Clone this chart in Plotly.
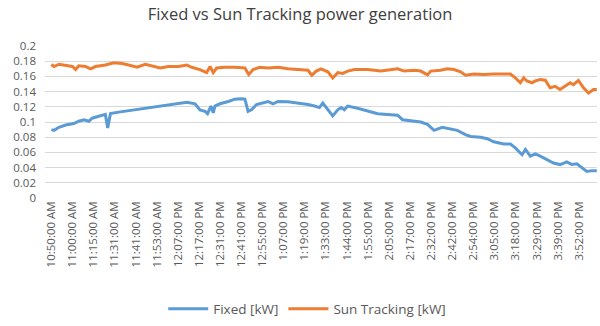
import plotly.graph_objects as go

# Category tick labels (one label every fixed number of samples)
tick_labels = ["10:50:00 AM", "11:00:00 AM", "11:15:00 AM", "11:31:00 AM", "11:41:00 AM",
               "11:53:00 AM", "12:07:00 PM", "12:17:00 PM", "12:31:00 PM", "12:41:00 PM",
               "12:55:00 PM", "1:07:00 PM", "1:19:00 PM", "1:33:00 PM", "1:44:00 PM",
               "1:55:00 PM", "2:05:00 PM", "2:17:00 PM", "2:32:00 PM", "2:42:00 PM",
               "2:54:00 PM", "3:05:00 PM", "3:18:00 PM", "3:29:00 PM", "3:39:00 PM",
               "3:52:00 PM"]
tick_pos = list(range(len(tick_labels)))

y_tick_vals = [0, 0.02, 0.04, 0.06, 0.08, 0.10, 0.12, 0.14, 0.16, 0.18, 0.20]
y_tick_text = ["0", "0.02", "0.04", "0.06", "0.08", "0.1", "0.12", "0.14", "0.16", "0.18", "0.2"]

# Fixed [kW] series (position in label units, value)
pos_fixed = [0, 0.13, 0.36, 0.68, 1.07, 1.30, 1.54, 1.78, 1.93, 2.33, 2.56, 2.67, 2.80, 3.19,
             3.66, 4.14, 4.61, 5.08, 5.55, 6.02, 6.42, 6.81, 7.04, 7.28, 7.40, 7.56, 7.67,
             7.75, 7.99, 8.38, 8.69, 9.01, 9.17, 9.32, 9.48, 9.72, 9.95, 10.27, 10.5, 10.74,
             11.21, 11.68, 12.16, 12.47, 12.7, 12.86, 13.02, 13.33, 13.57, 13.73, 13.88,
             14.04, 14.51, 14.99, 15.46, 15.93, 16.4, 16.64, 17.11, 17.5, 17.82, 18.13,
             18.52, 18.92, 19.23, 19.62, 19.86, 20.33, 20.65, 20.96, 21.43, 21.75, 21.98,
             22.3, 22.46, 22.69, 22.93, 23.16, 23.48, 23.79, 24.1, 24.42, 24.66, 24.9,
             25.13, 25.37, 25.61, 25.84]
val_fixed = [0.090, 0.089, 0.093, 0.096, 0.098, 0.101, 0.103, 0.101, 0.105, 0.108, 0.110,
             0.092, 0.111, 0.113, 0.115, 0.117, 0.119, 0.121, 0.123, 0.125, 0.126, 0.124,
             0.116, 0.114, 0.111, 0.121, 0.112, 0.121, 0.124, 0.127, 0.130, 0.1305, 0.130,
             0.114, 0.116, 0.123, 0.125, 0.127, 0.124, 0.127, 0.1265, 0.125, 0.123, 0.121,
             0.119, 0.125, 0.119, 0.108, 0.116, 0.119, 0.116, 0.121, 0.118, 0.114, 0.111,
             0.110, 0.109, 0.103, 0.101, 0.100, 0.097, 0.089, 0.093, 0.091, 0.089, 0.0835,
             0.081, 0.080, 0.078, 0.074, 0.071, 0.071, 0.066, 0.057, 0.064, 0.055, 0.058,
             0.055, 0.0507, 0.046, 0.044, 0.0476, 0.044, 0.045, 0.040, 0.035, 0.036, 0.036]

# Sun Tracking [kW] series
pos_track = [0, 0.13, 0.36, 0.68, 1.0, 1.15, 1.30, 1.62, 1.86, 2.09, 2.56, 2.96, 3.35, 3.66,
             4.06, 4.45, 4.92, 5.16, 5.55, 6.02, 6.42, 6.65, 7.04, 7.36, 7.52, 7.67, 7.83,
             8.22, 8.69, 9.17, 9.35, 9.56, 9.87, 10.27, 10.74, 11.21, 11.68, 12.16, 12.34,
             12.55, 12.78, 13.1, 13.33, 13.57, 13.8, 14.04, 14.36, 14.99, 15.61, 16.08, 16.4,
             16.72, 17.19, 17.5, 17.82, 17.97, 18.44, 18.76, 19.07, 19.39, 19.62, 20.01,
             20.48, 20.96, 21.43, 21.75, 21.98, 22.22, 22.38, 22.53, 22.77, 22.93, 23.16,
             23.4, 23.63, 23.87, 24.1, 24.34, 24.58, 24.73, 24.97, 25.21, 25.45, 25.68, 25.84]
val_track = [0.1757, 0.173, 0.176, 0.174, 0.173, 0.169, 0.174, 0.173, 0.170, 0.173, 0.175,
             0.178, 0.177, 0.175, 0.172, 0.176, 0.173, 0.171, 0.173, 0.173, 0.175, 0.172,
             0.169, 0.165, 0.173, 0.165, 0.171, 0.172, 0.172, 0.171, 0.1625, 0.169, 0.172,
             0.171, 0.172, 0.170, 0.169, 0.168, 0.1616, 0.167, 0.170, 0.166, 0.158, 0.165,
             0.164, 0.167, 0.169, 0.169, 0.167, 0.169, 0.170, 0.167, 0.168, 0.167, 0.162,
             0.167, 0.168, 0.170, 0.169, 0.166, 0.1616, 0.163, 0.1625, 0.163, 0.1625, 0.163,
             0.158, 0.1516, 0.158, 0.154, 0.1516, 0.154, 0.156, 0.155, 0.145, 0.147, 0.1428,
             0.147, 0.1516, 0.149, 0.1546, 0.145, 0.138, 0.1428, 0.1428]

FONT = "Open Sans"
fig = go.Figure()
fig.add_trace(go.Scatter(x=pos_fixed, y=val_fixed, mode="lines", name="Fixed [kW]",
                         line=dict(color="#5B9BD5", width=3)))
fig.add_trace(go.Scatter(x=pos_track, y=val_track, mode="lines", name="Sun Tracking [kW]",
                         line=dict(color="#ED7D31", width=3)))

fig.update_layout(
    width=600, height=326,
    margin=dict(l=45, r=3, t=46, b=128, autoexpand=False),
    paper_bgcolor="white", plot_bgcolor="white",
    title=dict(text="Fixed vs Sun Tracking power generation", x=0.5, xanchor="center",
               yref="container", y=0.957, yanchor="middle",
               font=dict(family=FONT, size=16.5, color="#404040")),
    font=dict(family=FONT, color="#595959"),
    showlegend=True,
    legend=dict(orientation="h", x=0.475, xanchor="center", yref="container", y=0.052,
                yanchor="middle", font=dict(family=FONT, size=13.5, color="#595959"),
                itemwidth=40, tracegroupgap=0),
    xaxis=dict(range=[-0.3, 25.85], tickmode="array", tickvals=tick_pos, ticktext=tick_labels,
               tickangle=-90, tickfont=dict(size=11.5, color="#595959"), showgrid=False,
               zeroline=False, showline=False, ticks="", automargin=False),
    yaxis=dict(range=[0, 0.2], tickmode="array", tickvals=y_tick_vals, ticktext=y_tick_text,
               tickfont=dict(size=11.5, color="#595959"), showgrid=True, gridcolor="#D9D9D9",
               gridwidth=1, zeroline=False, showline=False, ticks="", ticklabelstandoff=8,
               automargin=False),
)

fig.write_html("out.html", config={"displayModeBar": False},
               post_script="document.body.style.margin='0';")
